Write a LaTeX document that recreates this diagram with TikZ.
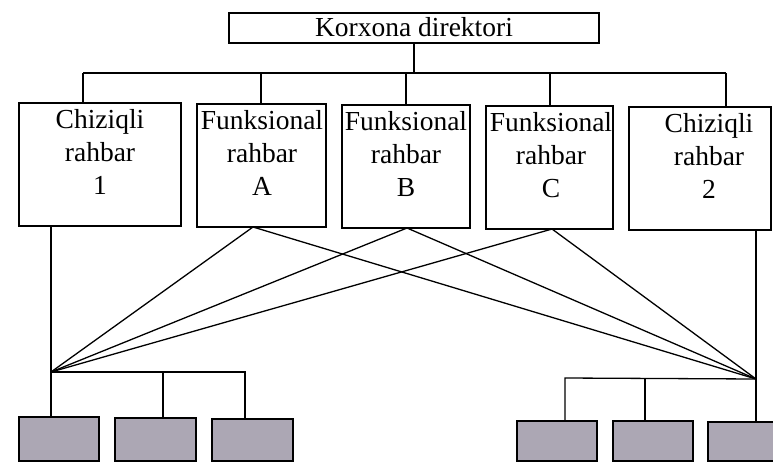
\documentclass[tikz,border=0pt]{standalone}
\usepackage{fontspec}
\setmainfont{Liberation Serif}
\definecolor{shade}{RGB}{172,167,180}
\begin{document}
\begin{tikzpicture}[x=1pt,y=-1pt,
  box/.style={draw, line width=1.3pt, rectangle, inner sep=0pt},
  txt/.style={anchor=north, inner sep=0pt, align=center, font=\fontsize{27.5}{33}\selectfont},
  sub/.style={draw, line width=1.3pt, rectangle, inner sep=0pt, fill=shade},
  wire/.style={line width=1.3pt}]
\useasboundingbox (0,0) rectangle (773,463);
% top
\node[box, minimum width=370pt, minimum height=30pt] (top) at (414,28) {};
\node[inner sep=0pt, font=\fontsize{27.5}{33}\selectfont] (toptxt) at (414,27) {Korxona direktori};
% managers
\node[box, minimum width=162pt, minimum height=123pt] (b1) at (100,164.5) {};
\node[box, minimum width=129pt, minimum height=123pt] (bA) at (261.5,165.5) {};
\node[box, minimum width=128pt, minimum height=123pt] (bB) at (406,166.5) {};
\node[box, minimum width=127pt, minimum height=123pt] (bC) at (549.5,167.5) {};
\node[box, minimum width=142pt, minimum height=123pt] (b2) at (700,168.5) {};
\node[txt] (t1) at (100,109) {Chiziqli\\rahbar\\1};
\node[txt] (tA) at (262,110) {Funksional\\rahbar\\A};
\node[txt] (tB) at (406,111) {Funksional\\rahbar\\B};
\node[txt] (tC) at (551,112) {Funksional\\rahbar\\C};
\node[txt] (t2) at (709,113) {Chiziqli\\rahbar\\2};
% bus
\coordinate (busL) at (83,73);
\coordinate (busR) at (726,73);
\draw[wire] (top.south) -- (top.south |- busL);
\draw[wire] (busL) -- (busR);
\draw[wire] (busL) -- (busL |- b1.north);
\draw[wire] (261,73) -- (261 ,104);
\draw[wire] (bB.north |- busL) -- (bB.north);
\draw[wire] (550,73) -- (550,106);
\draw[wire] (busR) -- (busR |- b2.north);
% fan points
\coordinate (fL) at (51,372);
\coordinate (fR) at (756,379);
\coordinate (aA) at (253,227);
\coordinate (aB) at (407,228);
\coordinate (aC) at (552,229);
\draw[wire] (aA) -- (fL) (aA) -- (fR);
\draw[wire] (aB) -- (fL) (aB) -- (fR);
\draw[wire] (aC) -- (fL) (aC) -- (fR);
% bottom groups
\node[sub, minimum width=80pt, minimum height=44pt] (s1) at (59,439) {};
\node[sub, minimum width=81pt, minimum height=43pt] (s2) at (155.5,439.5) {};
\node[sub, minimum width=81pt, minimum height=42pt] (s3) at (252.5,440) {};
\node[sub, minimum width=80pt, minimum height=40pt] (s4) at (557,441) {};
\node[sub, minimum width=80pt, minimum height=40pt] (s5) at (653,441) {};
\node[sub, minimum width=70pt, minimum height=39pt] (s6) at (743,441.5) {};
\draw[wire] (fL |- b1.south) -- (fL) -- (fL |- s1.north);
\draw[wire] (fL) -- (245,372) -- (245,419);
\draw[wire] (163,372) -- (163,418);
\draw[wire] (fR |- b2.south) -- (fR) -- (fR |- s6.north);
\draw[wire] (fR) -- (565,378) -- (565,421);
\draw[wire] (645,378) -- (645,421);
\end{tikzpicture}
\end{document}
